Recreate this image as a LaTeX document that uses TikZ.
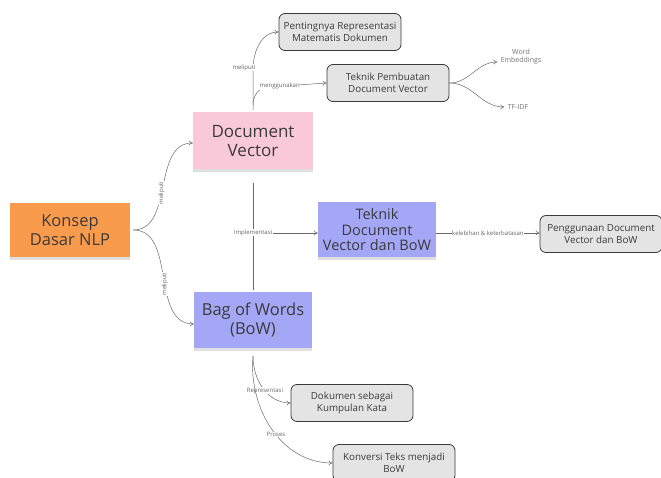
\documentclass[tikz,border=0pt]{standalone}
\usepackage{fontspec}
\setmainfont{Open Sans}
\usetikzlibrary{shadows,arrows.meta}
\definecolor{orangebox}{HTML}{F99B4C}
\definecolor{pinkbox}{HTML}{F9C9DA}
\definecolor{bluebox}{HTML}{A3A7F6}
\definecolor{graybox}{HTML}{E4E4E4}
\definecolor{txt}{HTML}{3A3A3A}
\definecolor{lnc}{HTML}{6A6A6A}
\tikzset{
  sticky/.style={minimum width=#1, align=center, text=txt, inner sep=2pt,
     drop shadow={shadow xshift=0pt, shadow yshift=-3pt, opacity=0.25}},
  topic/.style={draw=txt, fill=graybox, rounded corners=6pt, line width=0.8pt, align=center,
     text=txt, font=\fontsize{9.8}{11.5}\selectfont, minimum width=122pt, minimum height=37pt, inner sep=1pt},
  conn/.style={draw=lnc, line width=0.5pt, -{To[length=4pt,width=5pt]}},
  plain/.style={draw=lnc, line width=0.5pt},
  lbl/.style={font=\fontsize{6}{6}\selectfont, text=black!60, fill=white, inner sep=0.5pt},
  leaf/.style={font=\fontsize{7}{8}\selectfont, text=black!55, align=center}
}
\begin{document}
\begin{tikzpicture}[x=1pt,y=-1pt]
\useasboundingbox (0,0) rectangle (661,478);
\fill[white] (0,0) rectangle (661,478);

\node[sticky=120pt, minimum height=54pt, fill=orangebox, font=\fontsize{16.5}{19}\selectfont] (konsep) at (70,230) {Konsep\\Dasar NLP};
\node[sticky=120pt, minimum height=57pt, fill=pinkbox, font=\fontsize{17}{19.5}\selectfont] (dv) at (253,141) {Document\\Vector};
\node[sticky=118pt, minimum height=55pt, fill=bluebox, font=\fontsize{16.5}{19}\selectfont] (bow) at (253,320) {Bag of Words\\(BoW)};
\node[sticky=118pt, minimum height=55pt, fill=bluebox, font=\fontsize{14.5}{15.5}\selectfont] (teknik) at (377,230) {Teknik\\Document\\Vector dan BoW};

\node[topic] (guna) at (601,234) {Penggunaan Document\\Vector dan BoW};
\node[topic] (penting) at (340,32) {Pentingnya Representasi\\Matematis Dokumen};
\node[topic] (buat) at (388,83) {Teknik Pembuatan\\Document Vector};
\node[topic] (kumpulan) at (352,403) {Dokumen sebagai\\Kumpulan Kata};
\node[topic] (konversi) at (394,463) {Konversi Teks menjadi\\BoW};

\node[leaf] (we) at (521,57) {Word\\Embeddings};
\node[leaf] (tfidf) at (518,107) {TF-IDF};

% Konsep to DV and BoW
\draw[conn] (konsep.east) ++(3,0) coordinate (ks) to[out=0,in=180] node[lbl, pos=0.45, rotate=90] {meliputi} (dv.west |- 0,143);
\draw[conn] (ks) to[out=0,in=180] node[lbl, pos=0.55, rotate=90] {meliputi} (bow.west |- 0,324);

% vertical DV -- BoW line
\coordinate (vtop) at (253,183);
\coordinate (vbot) at (253,290);
\draw[plain] (vtop) -- (vbot);
\node[lbl] (impl) at (253,233) {Implementasi};
\draw[conn] (impl.east) -- (teknik.west |- impl.east);
\draw[conn] (teknik.east |- 0,233) -- node[lbl] {kelebihan \& keterbatasan} (guna.west |- 0,233);

% DV upward
\coordinate (dvtop) at (253,110);
\draw[conn] (dvtop) -- (253,70) to[out=90,in=180] (penting.west);
\node[lbl] at (244,68) {meliputi};
\draw[conn] (253,105) to[out=90,in=180] (268,87) -- node[lbl, pos=0.2] {menggunakan} (buat.west);

% Buat to leaves
\draw[conn] (buat.east) to[out=0,in=180] (we.west |- 0,62);
\draw[conn] (buat.east) to[out=0,in=180] (tfidf.west);

% BoW downward
\coordinate (bbot) at (253,356);
\draw[conn] (bbot) to[out=-90,in=180] node[lbl, pos=0.55] {Representasi} (kumpulan.west);
\draw[conn] (bbot) to[out=-95,in=180] node[lbl, pos=0.55] {Proses} (konversi.west);
\end{tikzpicture}
\end{document}
